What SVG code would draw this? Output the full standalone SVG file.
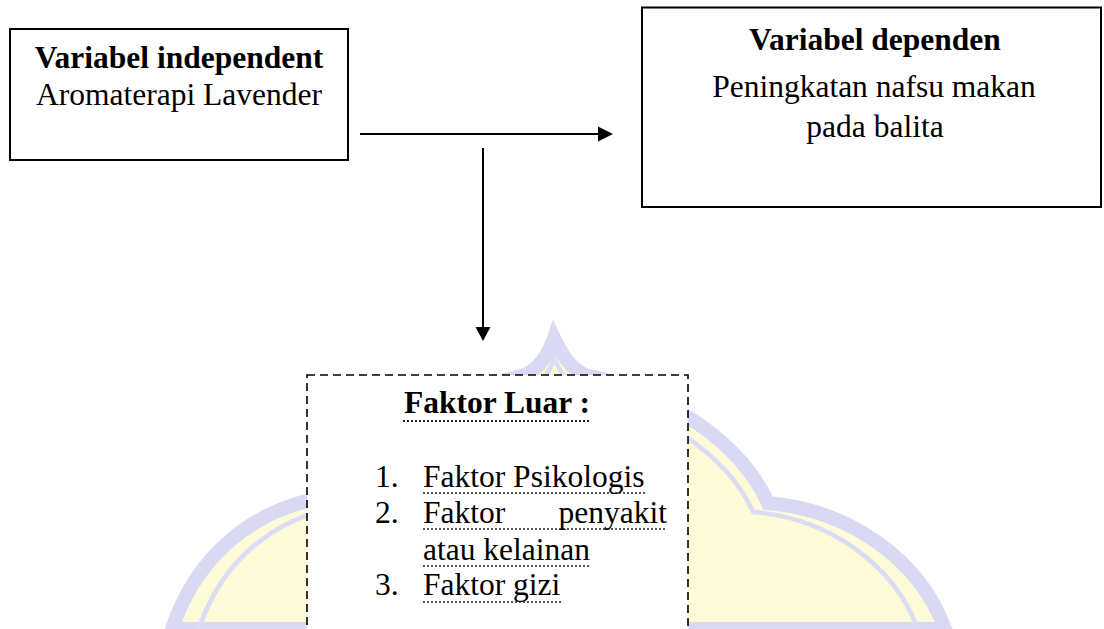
<svg xmlns="http://www.w3.org/2000/svg" width="1104" height="629" viewBox="0 0 1104 629">
  <style>
    .t { font-family: "Liberation Serif", "Times New Roman", serif; font-size: 31.5px; fill: #000; }
    .b { font-weight: bold; }
    .box { fill: #fff; stroke: #000; stroke-width: 2; }
    .dbox { fill: #fff; stroke: #000; stroke-width: 1.6; stroke-dasharray: 8 5; }
    .ul { stroke: #222; stroke-width: 1.4; stroke-dasharray: 2 2; fill: none; }
    .ulb { stroke: #222; stroke-width: 2; stroke-dasharray: 2 2; fill: none; }
    .conn { stroke: #000; stroke-width: 2; fill: none; }
    .head { fill: #000; }
  </style>
  <rect width="1104" height="629" fill="#fff"/>
  <g id="watermark">
    <path id="wm" d="M 554 338 C 562 355 570 368 585 375 C 660 390 740 440 768 503 C 850 510 920 560 945 629 L 172 629 C 195 560 250 505 340 495 C 370 440 460 390 525 375 C 540 368 548 355 554 338 Z" fill="#fdfbd8" stroke="#d9d9f3" stroke-width="14"/>
    <path d="M 554 338 C 562 355 570 368 585 375 C 660 390 740 440 768 503 C 850 510 920 560 945 629 L 172 629 C 195 560 250 505 340 495 C 370 440 460 390 525 375 C 540 368 548 355 554 338 Z" fill="none" stroke="#dcdcf4" stroke-width="5" transform="translate(555 629) scale(0.93) translate(-555 -629)"/>
  </g>
  <g id="connectors">
    <line class="conn" x1="360" y1="134" x2="599" y2="134"/>
    <polygon class="head" points="598,126.5 613,134 598,141.5"/>
    <line class="conn" x1="483" y1="148" x2="483" y2="328"/>
    <polygon class="head" points="475.5,327 490.5,327 483,341"/>
  </g>
  <g id="node-independent">
    <rect class="box" x="10" y="29" width="338" height="131"/>
    <text class="t b" x="179" y="68" text-anchor="middle">Variabel independent</text>
    <text class="t" x="179" y="105" text-anchor="middle">Aromaterapi Lavender</text>
  </g>
  <g id="node-dependen">
    <rect class="box" x="642" y="7.5" width="459" height="199.5"/>
    <text class="t b" x="875" y="50" text-anchor="middle">Variabel dependen</text>
    <text class="t" x="874" y="97" text-anchor="middle">Peningkatan nafsu makan</text>
    <text class="t" x="875" y="137" text-anchor="middle">pada balita</text>
  </g>
  <g id="node-faktor-luar">
    <rect class="dbox" x="307" y="375" width="381" height="290"/>
    <text class="t b" x="497" y="413" text-anchor="middle">Faktor Luar :</text>
    <line class="ulb" x1="403" y1="421" x2="591" y2="421"/>
    <text class="t" x="375" y="487">1.</text>
    <text class="t" x="423" y="487">Faktor Psikologis</text>
    <line class="ul" x1="423" y1="493" x2="647" y2="493"/>
    <text class="t" x="375" y="523">2.</text>
    <text class="t" x="423" y="523">Faktor</text>
    <text class="t" x="667" y="523" text-anchor="end">penyakit</text>
    <line class="ul" x1="423" y1="529" x2="667" y2="529"/>
    <text class="t" x="423" y="560">atau kelainan</text>
    <line class="ul" x1="423" y1="566" x2="590" y2="566"/>
    <text class="t" x="375" y="595">3.</text>
    <text class="t" x="423" y="595">Faktor gizi</text>
    <line class="ul" x1="423" y1="602" x2="562" y2="602"/>
  </g>
</svg>
